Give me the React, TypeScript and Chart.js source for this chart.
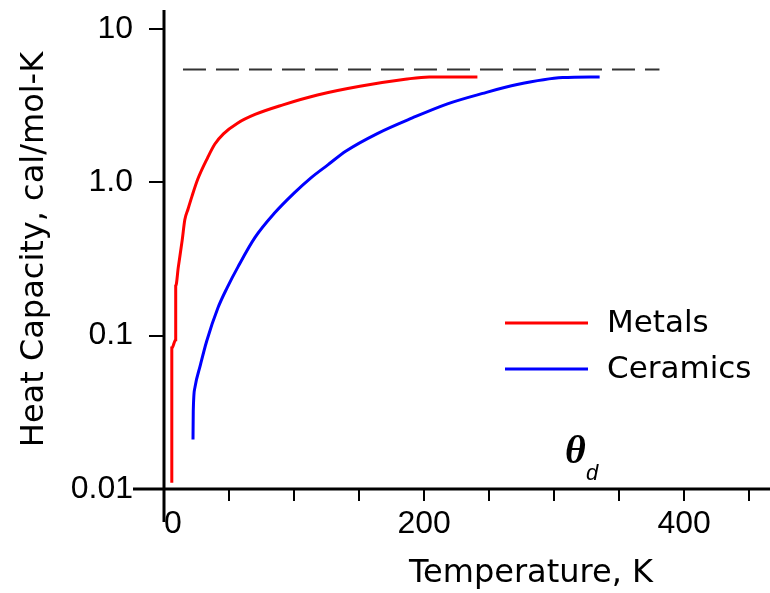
import React, { useEffect, useRef } from "react";
import { Chart, registerables } from "chart.js";

Chart.register(...registerables);

// ---- data ----
const metalsT = [6, 6, 9, 9, 11, 14, 16, 18.5, 21.5, 26, 33.6, 39, 45.7, 56.5, 70, 91.5, 118, 150.6, 185.5, 204, 241];
const metalsC = [0.011, 0.083, 0.094, 0.21, 0.28, 0.42, 0.57, 0.67, 0.81, 1.05, 1.45, 1.77, 2.07, 2.43, 2.77, 3.2, 3.71, 4.23, 4.7, 4.87, 4.87];

const ceramicsT = [22.3, 22.5, 23.8, 27.7, 32.8, 41.5, 48.5, 57, 70, 85, 100, 113, 126, 140, 164, 191, 218, 245, 271.6, 306.6, 335];
const ceramicsC = [0.021, 0.032, 0.046, 0.063, 0.092, 0.152, 0.205, 0.282, 0.437, 0.63, 0.85, 1.07, 1.3, 1.6, 2.08, 2.63, 3.25, 3.8, 4.34, 4.82, 4.87];

const limitT = [14.6, 381];
const limitC = [5.45, 5.45];

const xTicks = [0, 50, 100, 150, 200, 250, 300, 350, 400, 450];
const xTickLabels: Record<number, string> = { 0: "  0", 200: "200", 400: "400" };
const yTicks = [0.01, 0.1, 1, 10];
const yTickLabels: Record<number, string> = { 0.01: "0.01", 0.1: "0.1", 1: "1.0", 10: "10" };

const seriesNames = ["Metals", "Ceramics"];
const xTitle = "Temperature, K";
const yTitle = "Heat Capacity, cal/mol-K";

const toPoints = (xs: number[], ys: number[]) => xs.map((x, i) => ({ x, y: ys[i] }));

const overlayPlugin = {
  id: "overlay",
  afterDraw(chart: any) {
    const { ctx, chartArea, scales } = chart;
    const xs = scales.x;
    const ys = scales.y;
    ctx.save();
    // axes lines
    ctx.strokeStyle = "#000";
    ctx.lineWidth = 3;
    const x0 = xs.getPixelForValue(0);
    const y0 = ys.getPixelForValue(0.01);
    ctx.beginPath();
    ctx.moveTo(x0, chartArea.top);
    ctx.lineTo(x0, y0 + 33);
    ctx.stroke();
    ctx.beginPath();
    ctx.moveTo(x0 - 31, y0);
    ctx.lineTo(chartArea.right, y0);
    ctx.stroke();

    // legend
    const legendX = 505;
    const legendYs = [323, 369];
    ctx.font = "31px 'DejaVu Sans'";
    ctx.textBaseline = "middle";
    ctx.textAlign = "left";
    chart.data.datasets
      .filter((d: any) => d.label)
      .forEach((d: any, i: number) => {
        const ly = legendYs[i];
        ctx.strokeStyle = d.borderColor;
        ctx.lineWidth = 3;
        ctx.beginPath();
        ctx.moveTo(legendX, ly);
        ctx.lineTo(legendX + 83, ly);
        ctx.stroke();
        ctx.fillStyle = "#000";
        ctx.fillText(d.label, 607, ly + 1);
      });

    // x title
    ctx.font = "32px 'DejaVu Sans'";
    ctx.textAlign = "center";
    ctx.fillText(xTitle, 531, 574);

    // theta_d
    ctx.font = "italic bold 40px 'Liberation Serif'";
    ctx.textAlign = "left";
    ctx.textBaseline = "alphabetic";
    ctx.fillText("θ", 565, 463);
    ctx.font = "italic 22px 'Liberation Sans'";
    ctx.fillText("d", 586, 480);
    ctx.restore();
  },
};

export default function App() {
  const ref = useRef<HTMLCanvasElement>(null);
  useEffect(() => {
    document.body.style.margin = "0";
    const chart = new Chart(ref.current as HTMLCanvasElement, {
      type: "scatter",
      data: {
        datasets: [
          {
            label: seriesNames[0],
            data: toPoints(metalsT, metalsC),
            showLine: true,
            borderColor: "#ff0000",
            backgroundColor: "#ff0000",
            borderWidth: 3,
            pointRadius: 0,
            cubicInterpolationMode: "monotone",
          },
          {
            label: seriesNames[1],
            data: toPoints(ceramicsT, ceramicsC),
            showLine: true,
            borderColor: "#0000ff",
            backgroundColor: "#0000ff",
            borderWidth: 3,
            pointRadius: 0,
            cubicInterpolationMode: "monotone",
          },
          {
            label: "",
            data: toPoints(limitT, limitC),
            showLine: true,
            borderColor: "#333333",
            borderWidth: 2,
            borderDash: [23, 10],
            pointRadius: 0,
          },
        ],
      },
      options: {
        responsive: false,
        animation: false,
        layout: { padding: { top: 10, right: 0, left: 0, bottom: 0 } },
        plugins: { legend: { display: false }, tooltip: { enabled: false } },
        scales: {
          x: {
            type: "linear",
            min: 0,
            max: 466,
            afterFit: (s: any) => {
              s.height = 104;
              s.paddingLeft = 0;
              s.paddingRight = 0;
            },
            afterBuildTicks: (s: any) => {
              s.ticks = xTicks.map((v) => ({ value: v }));
            },
            border: { display: false },
            grid: {
              drawOnChartArea: false,
              drawTicks: true,
              tickLength: 12,
              lineWidth: 2,
              tickColor: (c: any) => (c.tick && c.tick.value === 0 ? "rgba(0,0,0,0)" : "#000"),
            },
            ticks: {
              autoSkip: false,
              maxRotation: 0,
              padding: 4,
              color: "#000",
              font: { family: "'Liberation Sans', Arial", size: 32 },
              callback: (v: any) => xTickLabels[v as number] ?? "",
            },
          },
          y: {
            type: "logarithmic",
            min: 0.01,
            max: 13.3,
            afterFit: (s: any) => {
              s.width = 164;
              s.paddingTop = 0;
              s.paddingBottom = 0;
            },
            afterBuildTicks: (s: any) => {
              s.ticks = yTicks.map((v) => ({ value: v }));
            },
            border: { display: false },
            grid: {
              drawOnChartArea: false,
              drawTicks: true,
              tickLength: 15,
              lineWidth: 2,
              tickColor: (c: any) => (c.tick && c.tick.value === 0.01 ? "rgba(0,0,0,0)" : "#000"),
            },
            ticks: {
              autoSkip: false,
              padding: 16,
              color: "#000",
              font: { family: "'Liberation Sans', Arial", size: 32 },
              callback: (v: any) => yTickLabels[v as number] ?? "",
            },
            title: {
              display: true,
              text: yTitle,
              color: "#000",
              font: { family: "'DejaVu Sans'", size: 32 },
              padding: { top: 15, bottom: 0 },
            },
          },
        },
      },
      plugins: [overlayPlugin],
    });
    return () => chart.destroy();
  }, []);
  return (
    <div style={{ position: "absolute", left: 0, top: 0, width: 770, height: 593, background: "#fff" }}>
      <canvas ref={ref} width={770} height={593} />
    </div>
  );
}
